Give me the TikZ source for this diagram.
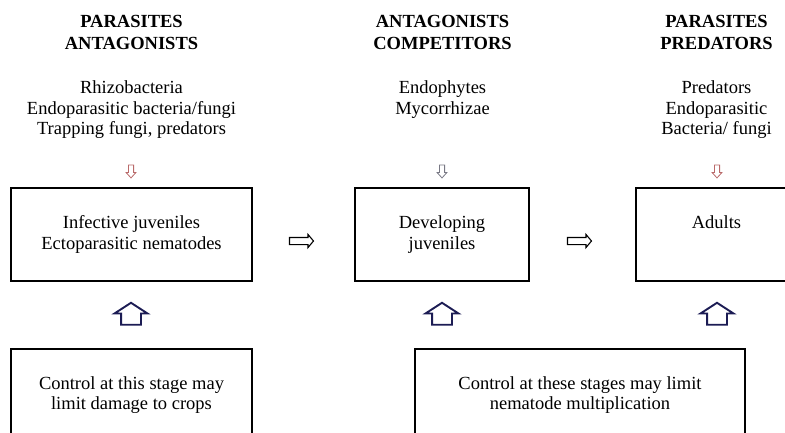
\documentclass[tikz,border=0pt]{standalone}
\usepackage{fontspec}
\setmainfont{Liberation Serif}
\usetikzlibrary{shapes.arrows}

\definecolor{navy}{RGB}{28,28,84}
\definecolor{rose}{RGB}{185,105,105}
\definecolor{slate}{RGB}{120,120,132}

\tikzset{
  stagebox/.style={draw, line width=1.2pt, align=center, inner sep=0pt,
    font=\fontsize{18.5}{20.5}\selectfont},
  headtext/.style={align=center, inner sep=0pt, anchor=north,
    font=\fontsize{18.5}{22}\selectfont\bfseries},
  listtext/.style={align=center, inner sep=0pt, anchor=north,
    font=\fontsize{18.5}{20.5}\selectfont},
  uparrow/.style={single arrow, draw=navy, line width=1.9pt, fill=white,
    rotate=90, inner xsep=0pt, inner ysep=9pt, minimum height=22pt,
    minimum width=31pt, single arrow head extend=6.5pt, single arrow tip angle=114},
  rightarrow/.style={single arrow, draw, line width=1.1pt, fill=white,
    inner xsep=0pt, inner ysep=3pt, minimum height=24pt, minimum width=12pt,
    single arrow head extend=3pt, single arrow tip angle=100},
  downarrow/.style={single arrow, line width=0.8pt, fill=white,
    rotate=-90, inner xsep=0pt, inner ysep=2.2pt, minimum height=13pt,
    minimum width=9pt, single arrow head extend=2.3pt, single arrow tip angle=84}
}

\begin{document}
\begin{tikzpicture}[x=1pt,y=-1pt]
  \useasboundingbox (0,0) rectangle (785,432);
  \clip (0,0) rectangle (785,432);

  % headings
  \node[headtext] (h1) at (131.5,15) {PARASITES\\ANTAGONISTS};
  \node[headtext] (h2) at (442.5,15) {ANTAGONISTS\\COMPETITORS};
  \node[headtext] (h3) at (716.5,15) {PARASITES\\PREDATORS};

  % agents
  \node[listtext] (a1) at (131.5,80.5) {Rhizobacteria\\Endoparasitic bacteria/fungi\\Trapping fungi, predators};
  \node[listtext] (a2) at (442.5,80.5) {Endophytes\\Mycorrhizae};
  \node[listtext] (a3) at (716.5,80.5) {Predators\\Endoparasitic\\Bacteria/ fungi};

  \node[downarrow, draw=rose] (d1) at (131,170) {};
  \node[downarrow, draw=slate] (d2) at (442,170) {};
  \node[downarrow, draw=rose] (d3) at (717,170) {};

  % stages
  \node[stagebox, minimum width=241pt, minimum height=93pt] (inf) at (131.5,234.5)
    {Infective juveniles\\Ectoparasitic nematodes};
  \node[stagebox, minimum width=174pt, minimum height=93pt] (dev) at (442,234.5)
    {Developing\\juveniles};
  \node[stagebox, minimum width=161pt, minimum height=93pt] (adu) at (716.5,234.5)
    {Adults\\\vphantom{j}};

  \node[rightarrow] (r1) at (300,241) {};
  \node[rightarrow] (r2) at (578,241) {};

  \node[uparrow] (u1) at (131,317) {};
  \node[uparrow] (u2) at (442,317) {};
  \node[uparrow] (u3) at (717,317) {};

  % control
  \node[stagebox, minimum width=241pt, minimum height=92pt] (ctl1) at (131.5,395)
    {Control at this stage may\\limit damage to crops};
  \node[stagebox, minimum width=330pt, minimum height=92pt] (ctl2) at (580,395)
    {Control at these stages may limit\\nematode multiplication};
\end{tikzpicture}
\end{document}
